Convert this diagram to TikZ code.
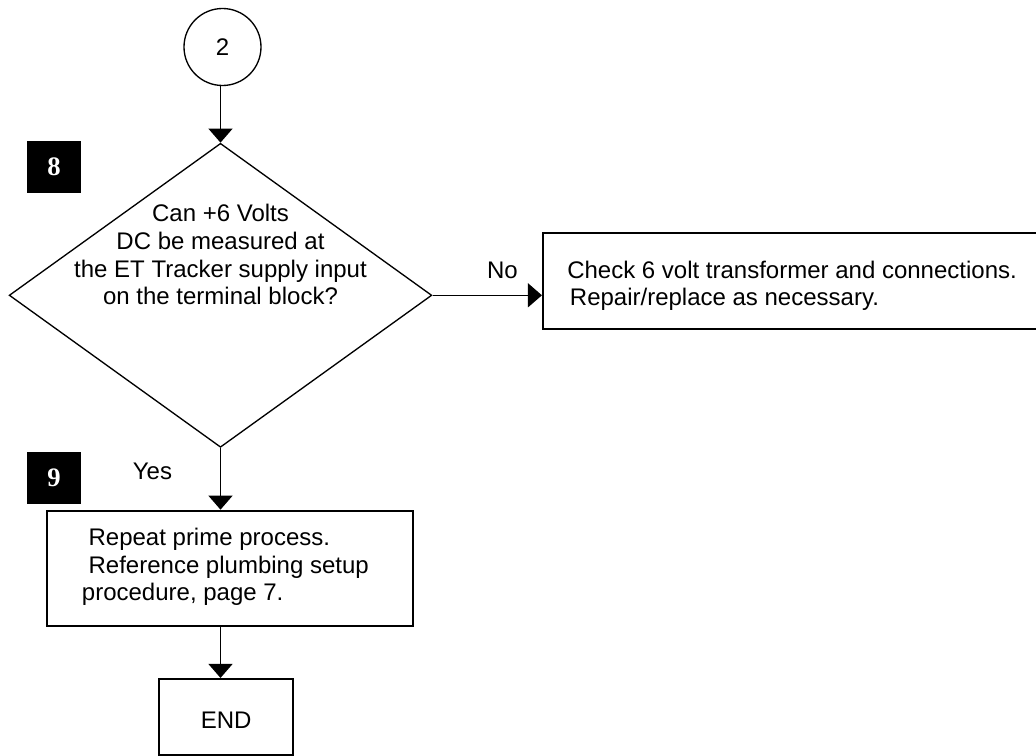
\documentclass[tikz,border=0pt]{standalone}
\usepackage{fontspec}
\setmainfont{Liberation Sans}
\newfontfamily\numfont{Liberation Serif}
\usetikzlibrary{shapes.geometric,arrows.meta}

\tikzset{
    flowline/.style={line width=1pt, -{Triangle[width=18pt,length=10.5pt]}},
    procbox/.style={draw, line width=1.6pt, inner sep=0pt},
    proctext/.style={align=left, inner sep=0pt, anchor=north west},
    numbox/.style={fill=black, text=white, minimum width=40.5pt, minimum height=39pt,
        inner sep=0pt, font=\numfont\bfseries\fontsize{20}{20}\selectfont}
}

\begin{document}
\begin{tikzpicture}[x=0.75pt, y=-0.75pt, font=\fontsize{18}{20.8}\selectfont]
    \useasboundingbox (0,0) rectangle (1036,756);
    \clip (0,0) rectangle (1036,756);

    % Connector from page 2
    \node[draw, circle, line width=1pt, minimum size=57.75pt, inner sep=0pt] (conn2) at (222.5,47) {2};

    % Decision
    \node[draw, diamond, line width=1pt, minimum width=317pt, minimum height=228pt, inner sep=0pt] (q8) at (220.5,295.3) {};
    \node[align=center, inner sep=0pt] (q8text) at (220.5,254.6) {Can +6 Volts\\DC be measured at\\the ET Tracker supply input\\on the terminal block?};

    % Step numbers
    \node[numbox] (num8) at (54,167) {8};
    \node[numbox] (num9) at (54,477.5) {9};

    % Actions
    \node[procbox, minimum width=387.75pt, minimum height=72pt] (chk) at (801.5,281) {};
    \node[proctext] (chktext) at (567,260.5)
        {Check 6 volt transformer and connections.\\\hspace*{2pt}Repair/replace as necessary.};
    \node[procbox, minimum width=274.5pt, minimum height=86.5pt] (rep) at (229.8,568.4) {};
    \node[proctext] (reptext) at (81.7,527.8)
        {\hspace*{5pt}Repeat prime process.\\\hspace*{5pt}Reference plumbing setup\\procedure, page 7.};
    \node[procbox, minimum width=100.5pt, minimum height=57pt] (endbox) at (226,717) {};
    \node[inner sep=0pt] (endtext) at (226.2,720.5) {END};

    % Labels
    \node[inner sep=0pt] (nolbl) at (502.5,270.7) {No};
    \node[inner sep=0pt] (yeslbl) at (152.5,471.6) {Yes};

    % Arrows
    \draw[flowline] (conn2.south -| q8.north) -- (q8.north);
    \draw[flowline] (q8.east) -- (q8.east -| chk.west);
    \draw[flowline] (q8.south) -- (q8.south |- rep.north);
    \draw[flowline] (q8.south |- rep.south) -- (q8.south |- endbox.north);
\end{tikzpicture}
\end{document}
